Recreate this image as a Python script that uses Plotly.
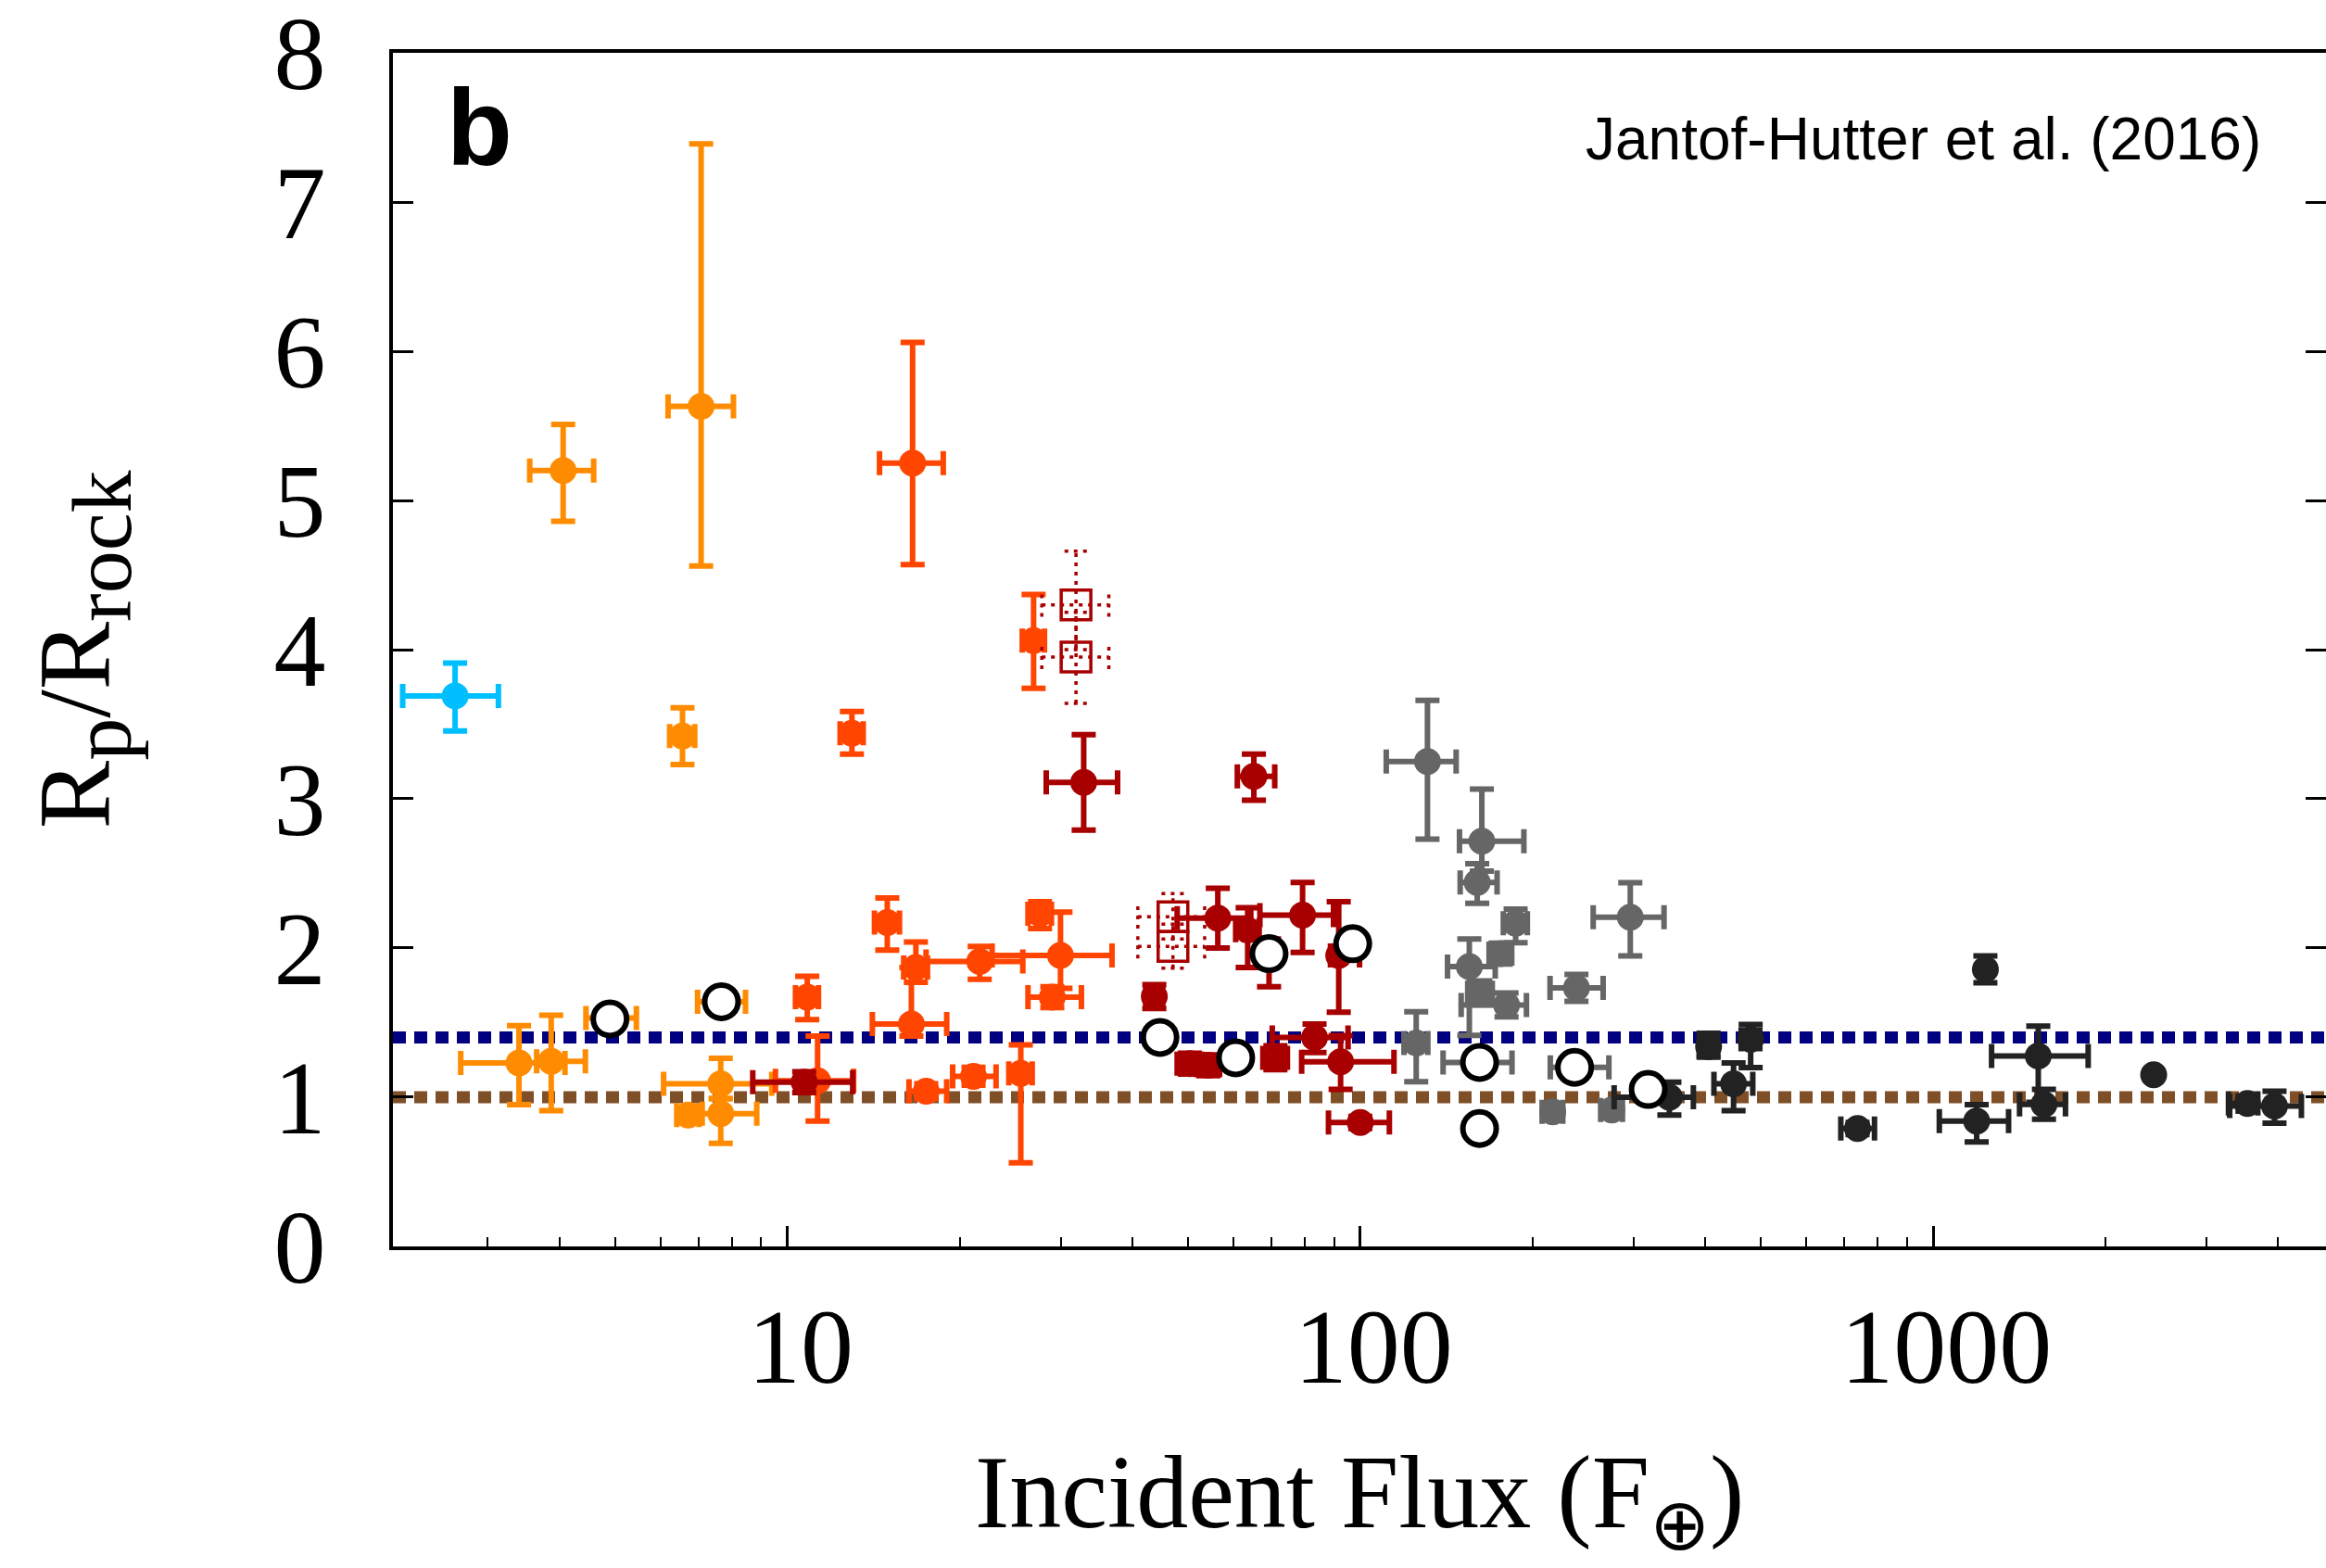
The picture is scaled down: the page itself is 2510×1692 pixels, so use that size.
import plotly.graph_objects as go

# ---------------- data (flux in F_earth, Rp/Rrock) ----------------
# each row: flux, ratio, flux_minus, flux_plus, ratio_minus, ratio_plus
CYAN_PTS = [
    (2.63, 3.69, 0.50, 0.50, 0.235, 0.22),
]
ORANGE_PTS = [
    (4.06, 5.20, 0.51, 0.53, 0.34, 0.31),
    (7.07, 5.63, 0.88, 0.98, 1.07, 1.76),
    (6.56, 3.42, 0.33, 0.33, 0.19, 0.19),
    (3.40, 1.23, 0.71, 0.69, 0.28, 0.25),
    (3.87, 1.24, 0.22, 0.57, 0.33, 0.31),
    (4.90, 1.53, 0.45, 0.55, 0.06, 0.06),
    (7.67, 1.64, 0.70, 0.78, 0.06, 0.06),
    (7.65, 1.09, 1.57, 1.74, 0.10, 0.17),
    (7.65, 0.89, 0.55, 1.19, 0.20, 0.10),
    (6.71, 0.88, 0.30, 0.30, 0.05, 0.05),
]
ORANGERED_PTS = [
    (16.54, 5.25, 2.06, 2.17, 0.68, 0.81),
    (26.9, 4.06, 1.2, 1.2, 0.32, 0.31),
    (12.96, 3.44, 0.6, 0.6, 0.14, 0.145),
    (14.94, 2.17, 0.75, 0.75, 0.185, 0.165),
    (16.76, 1.87, 0.8, 0.8, 0.10, 0.17),
    (16.46, 1.49, 2.39, 2.51, 0.08, 0.38),
    (21.66, 1.91, 4.2, 4.1, 0.12, 0.10),
    (29.97, 1.95, 7.2, 6.9, 0.22, 0.29),
    (27.6, 2.23, 1.3, 1.3, 0.10, 0.08),
    (29.0, 1.67, 2.7, 3.6, 0.07, 0.07),
    (10.83, 1.67, 0.5, 0.5, 0.15, 0.14),
    (11.29, 1.11, 1.76, 1.76, 0.27, 0.30),
    (17.47, 1.04, 1.17, 1.5, 0.05, 0.05),
    (21.13, 1.14, 1.7, 2.0, 0.06, 0.06),
    (25.55, 1.16, 1.2, 1.2, 0.60, 0.19),
]
DARKRED_PTS = [
    (10.7, 1.10, 2.0, 2.3, 0.07, 0.07),
    (32.9, 3.11, 4.6, 4.8, 0.32, 0.32),
    (65.2, 3.15, 4.2, 5.7, 0.16, 0.15),
    (56.4, 2.20, 8.5, 8.0, 0.20, 0.20),
    (63.6, 2.12, 3.0, 3.0, 0.25, 0.15),
    (79.3, 2.22, 12.5, 10.5, 0.25, 0.22),
    (91.7, 1.95, 3.0, 8.0, 0.38, 0.36),
    (69.3, 1.96, 3.0, 3.0, 0.22, 0.10),
    (43.7, 1.675, 1.5, 1.5, 0.08, 0.08),
    (50.4, 1.225, 2.5, 2.5, 0.07, 0.07),
    (54.3, 1.214, 2.5, 2.5, 0.07, 0.07),
    (71.1, 1.264, 3.5, 3.5, 0.08, 0.08),
    (83.2, 1.40, 13.0, 12.0, 0.10, 0.09),
    (92.4, 1.238, 13.4, 22.1, 0.186, 0.175),
    (100.0, 0.83, 12.0, 12.4, 0.04, 0.04),
]
DARKRED_OPEN_PTS = [
    (31.9, 4.30, 4.1, 4.5, 0.30, 0.36),
    (31.9, 3.95, 4.1, 4.5, 0.31, 0.30),
    (47.1, 2.21, 6.2, 6.4, 0.15, 0.155),
    (47.1, 2.01, 6.2, 6.4, 0.145, 0.15),
]
GRAY_PTS = [
    (131.0, 3.25, 20, 16, 0.52, 0.41),
    (163.0, 2.715, 14, 30, 0.20, 0.35),
    (160.0, 2.44, 10.6, 13.3, 0.14, 0.125),
    (186.7, 2.166, 9, 9, 0.13, 0.095),
    (155.0, 1.875, 13, 17, 0.46, 0.185),
    (175.8, 1.962, 8, 8, 0.07, 0.07),
    (162.0, 1.70, 8, 8, 0.08, 0.08),
    (180.0, 1.618, 30, 15, 0.08, 0.08),
    (125.2, 1.363, 6, 6, 0.26, 0.21),
    (161.5, 1.233, 22, 22.5, 0.05, 0.05),
    (161.5, 0.79, 8, 8, 0.05, 0.05),
    (216.7, 0.902, 9, 9, 0.05, 0.05),
    (274.8, 0.914, 12, 12, 0.05, 0.05),
    (296.0, 2.207, 41, 43, 0.26, 0.23),
    (238.4, 1.732, 24, 27, 0.09, 0.09),
    (236.6, 1.20, 22, 35, 0.05, 0.05),
]
BLACK_PTS = [
    (346.4, 1.00, 69, 35, 0.12, 0.10),
    (405.5, 1.338, 15, 15, 0.07, 0.09),
    (480.2, 1.388, 18, 18, 0.19, 0.10),
    (448.3, 1.09, 34, 36, 0.18, 0.14),
    (737.9, 0.79, 48, 52, 0.04, 0.04),
    (1233.5, 1.857, 0, 0, 0.09, 0.09),
    (1191.0, 0.84, 166, 163, 0.14, 0.11),
    (1525.6, 1.276, 261, 339, 0.31, 0.20),
    (1561.0, 0.952, 146, 141, 0.10, 0.10),
    (2426.0, 1.15, 0, 0, 0.0, 0.0),
    (3537.0, 0.957, 260, 150, 0.05, 0.05),
    (3943.0, 0.94, 650, 450, 0.115, 0.10),
]
OPEN_FLUX = [4.90, 7.67, 44.7, 60.6, 69.3, 97.0, 161.5, 161.5, 236.6, 318.1]
OPEN_RATIO = [1.525, 1.64, 1.401, 1.264, 1.962, 2.029, 1.233, 0.79, 1.20, 1.052]

REF_LEVELS = [1.40, 1.0]
REF_COLORS = ["#000080", "#7F4F28"]

X_MAJOR = [10, 100, 1000]
X_MAJOR_TEXT = ["\u00a010", "\u00a0100", "\u00a01000"]
X_MINOR = [2, 3, 4, 5, 6, 7, 8, 9, 20, 30, 40, 50, 60, 70, 80, 90,
           200, 300, 400, 500, 600, 700, 800, 900, 2000, 3000, 4000, 5000]
Y_TICKS = [0, 1, 2, 3, 4, 5, 6, 7, 8]

# ---------------- styling ----------------
SERIF = "Liberation Serif, Times New Roman, serif"
SANS = "Liberation Sans, Arial, sans-serif"
MSIZE = 29
EB_T = 6
EB_W = 13
Y_RANGE = [-0.0005, 8.0005]

fig = go.Figure()

for val, col in zip(REF_LEVELS, REF_COLORS):
    fig.add_shape(type="line", xref="paper", x0=0, x1=1, yref="y", y0=val, y1=val,
                  line=dict(color=col, width=13, dash="14px,9px"), layer="below")


def add_group(rows, color):
    F = [r[0] for r in rows]
    R = [r[1] for r in rows]
    fig.add_trace(go.Scatter(
        x=F, y=R, mode="markers",
        marker=dict(symbol="circle", size=MSIZE, color=color, line=dict(width=0)),
        error_x=dict(type="data", symmetric=False, array=[r[3] for r in rows],
                     arrayminus=[r[2] for r in rows], color=color, thickness=EB_T, width=EB_W),
        error_y=dict(type="data", symmetric=False, array=[r[5] for r in rows],
                     arrayminus=[r[4] for r in rows], color=color, thickness=EB_T, width=EB_W),
        showlegend=False, hoverinfo="skip"))


add_group(CYAN_PTS, "#00BFFF")
add_group(ORANGE_PTS, "#FF8C00")
add_group(ORANGERED_PTS, "#FF4500")
add_group(DARKRED_PTS, "#A80000")
add_group(GRAY_PTS, "#666666")
add_group(BLACK_PTS, "#222222")

# dotted error bars for the open squares
CAP_DEC = 0.02
CAP_Y = 0.08
xs, ys = [], []
for F, R, Fm, Fp, Rm, Rp in DARKRED_OPEN_PTS:
    xs += [F, F, None]; ys += [R - Rm, R + Rp, None]
    xs += [F - Fm, F + Fp, None]; ys += [R, R, None]
    for yy in (R - Rm, R + Rp):
        xs += [F * 10 ** -CAP_DEC, F * 10 ** CAP_DEC, None]; ys += [yy, yy, None]
    for xx in (F - Fm, F + Fp):
        xs += [xx, xx, None]; ys += [R - CAP_Y, R + CAP_Y, None]
fig.add_trace(go.Scatter(x=xs, y=ys, mode="lines",
                         line=dict(color="#A80000", width=3.5, dash="4px,6px"),
                         showlegend=False, hoverinfo="skip"))
fig.add_trace(go.Scatter(
    x=[r[0] for r in DARKRED_OPEN_PTS], y=[r[1] for r in DARKRED_OPEN_PTS], mode="markers",
    marker=dict(symbol="square-open", size=32, color="#A80000", line=dict(width=3.5, color="#A80000")),
    showlegend=False, hoverinfo="skip"))

fig.add_trace(go.Scatter(
    x=OPEN_FLUX, y=OPEN_RATIO, mode="markers",
    marker=dict(symbol="circle", size=36, color="white", line=dict(width=6, color="black")),
    showlegend=False, hoverinfo="skip"))

# invisible anchor so the right-hand tick axis is drawn
fig.add_trace(go.Scatter(x=[X_MAJOR[0]], y=[Y_TICKS[0]], yaxis="y2", mode="markers",
                         marker=dict(size=1, opacity=0), showlegend=False, hoverinfo="skip"))

fig.update_layout(
    width=2510, height=1692,
    margin=dict(l=424, r=0, t=57, b=347, autoexpand=False),
    paper_bgcolor="white", plot_bgcolor="white",
    showlegend=False,
    yaxis2=dict(overlaying="y", side="right", range=Y_RANGE, tickmode="array",
                tickvals=Y_TICKS, ticks="inside", ticklen=22, tickwidth=3,
                tickcolor="black", showticklabels=False, showline=False,
                showgrid=False, zeroline=False, automargin=False),
)

fig.update_xaxes(
    type="log", range=[0.3114, 3.6857], automargin=False,
    tickmode="array", tickvals=X_MAJOR, ticktext=X_MAJOR_TEXT,
    ticks="inside", ticklen=22, tickwidth=2.5, tickcolor="black",
    showline=True, linecolor="black", linewidth=4, mirror=True,
    showgrid=False, zeroline=False,
    tickfont=dict(family=SERIF, size=114, color="black"),
    ticklabelstandoff=6, ticklabeloverflow="allow",
    minor=dict(tickmode="array", tickvals=X_MINOR, ticks="inside", ticklen=10,
               tickwidth=2, tickcolor="black", showgrid=False),
)
fig.update_layout(yaxis=dict(
    range=Y_RANGE, tickmode="array", tickvals=Y_TICKS, automargin=False,
    ticks="inside", ticklen=22, tickwidth=3, tickcolor="black",
    showline=True, linecolor="black", linewidth=4, mirror=False,
    showgrid=False, zeroline=False,
    tickfont=dict(family=SERIF, size=112, color="black"),
    ticklabelstandoff=46, ticklabeloverflow="allow",
))

# axis titles and labels
SUBSTYLE = "font-size:92px"
fig.add_annotation(text="Incident Flux (F<sub>\u2295</sub>)", xref="paper", yref="paper",
                   x=0.5, y=-0.156, xanchor="center", yanchor="top", showarrow=False,
                   font=dict(family=SERIF, size=112, color="black"))
fig.add_annotation(text=f"R<sub><span style='{SUBSTYLE}'>p</span></sub>/R<sub><span style='{SUBSTYLE}'>rock</span></sub>",
                   xref="paper", yref="paper",
                   x=-0.160, y=0.5, xanchor="center", yanchor="middle", textangle=-90,
                   showarrow=False, font=dict(family=SERIF, size=110, color="black"))
fig.add_annotation(text="<b>b</b>", xref="paper", yref="paper",
                   x=0.0268, y=0.937, xanchor="left", yanchor="middle", showarrow=False,
                   font=dict(family=SANS, size=116, color="black"))
fig.add_annotation(text="Jantof-Hutter et al. (2016)", xref="paper", yref="paper",
                   x=0.9674, y=0.9278, xanchor="right", yanchor="middle", showarrow=False,
                   font=dict(family=SANS, size=64, color="black"))

fig.write_html("out.html")
